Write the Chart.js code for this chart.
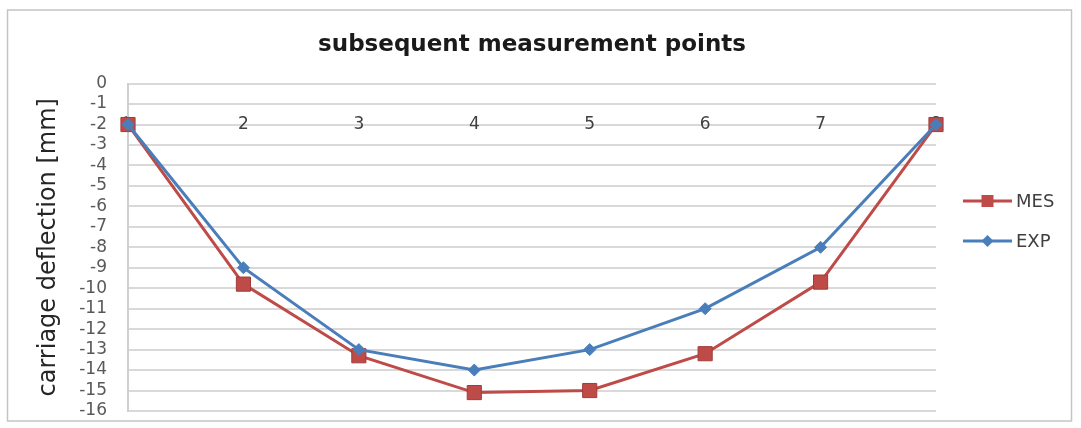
<!DOCTYPE html>
<html><head><meta charset="utf-8">
<script src="https://cdn.jsdelivr.net/npm/chart.js"></script>
<style>html,body{margin:0;padding:0;background:#fff;overflow:hidden}canvas{display:block}</style>
</head><body>
<canvas id="c" width="1081" height="428"></canvas>
<script>
// ---- data ----
const categories = ['1', '2', '3', '4', '5', '6', '7', '8'];
const mesValues = [-2, -9.8, -13.3, -15.1, -15.0, -13.2, -9.7, -2];
const expValues = [-2, -9.0, -13.0, -14.0, -13.0, -11.0, -8.0, -2];
const seriesNames = ['MES', 'EXP'];
const yMin = -16, yMax = 0, yStep = 1;
const chartTitle = 'subsequent measurement points';
const yAxisTitle = 'carriage deflection [mm]';

const MES_COLOR = '#BE4B48';
const EXP_COLOR = '#4A7EBB';

const framePlugin = {
  id: 'frame',
  beforeDraw(chart) {
    const ctx = chart.ctx;
    ctx.save();
    ctx.fillStyle = '#ffffff';
    ctx.fillRect(0, 0, chart.width, chart.height);
    ctx.strokeStyle = '#c4c4c4';
    ctx.lineWidth = 1.5;
    ctx.strokeRect(7.5, 10, 1064, 411);
    ctx.restore();
  }
};

const legendPlugin = {
  id: 'sideLegend',
  afterDraw(chart) {
    const ctx = chart.ctx;
    const ca = chart.chartArea;
    const x0 = ca.right + 27, x1 = ca.right + 76, xm = (x0 + x1) / 2;
    const yStart = 201, rowGap = 40;
    ctx.save();
    chart.data.datasets.forEach((ds, i) => {
      const y = yStart + i * rowGap;
      ctx.strokeStyle = ds.borderColor;
      ctx.lineWidth = 3;
      ctx.beginPath(); ctx.moveTo(x0, y); ctx.lineTo(x1, y); ctx.stroke();
      ctx.fillStyle = ds.pointBackgroundColor;
      ctx.beginPath();
      if (ds.pointStyle === 'rect') {
        ctx.rect(xm - 6, y - 6, 12, 12);
      } else {
        ctx.moveTo(xm, y - 6); ctx.lineTo(xm + 6, y); ctx.lineTo(xm, y + 6); ctx.lineTo(xm - 6, y); ctx.closePath();
      }
      ctx.fill();
      ctx.fillStyle = '#404040';
      ctx.font = '18px "DejaVu Sans"';
      ctx.textAlign = 'left';
      ctx.textBaseline = 'middle';
      ctx.fillText(ds.label, x1 + 4, y + 1);
    });
    ctx.restore();
  }
};

new Chart(document.getElementById('c'), {
  type: 'line',
  data: {
    labels: categories,
    datasets: [
      {
        label: seriesNames[0], data: mesValues, order: 1,
        borderColor: MES_COLOR, backgroundColor: MES_COLOR,
        pointBackgroundColor: MES_COLOR, pointBorderColor: '#a03c3a',
        pointStyle: 'rect', pointRadius: 10, pointBorderWidth: 1,
        borderWidth: 3, tension: 0, fill: false
      },
      {
        label: seriesNames[1], data: expValues, order: 0,
        borderColor: EXP_COLOR, backgroundColor: EXP_COLOR,
        pointBackgroundColor: EXP_COLOR, pointBorderColor: EXP_COLOR,
        pointStyle: 'rectRot', pointRadius: 6, pointBorderWidth: 1,
        borderWidth: 3, tension: 0, fill: false
      }
    ]
  },
  options: {
    responsive: false,
    animation: false,
    devicePixelRatio: 1,
    layout: { padding: { left: 28, right: 145, top: 0, bottom: 17 } },
    plugins: {
      legend: { display: false },
      tooltip: { enabled: false },
      title: {
        display: true, text: chartTitle, fullSize: false,
        color: '#1a1a1a',
        font: { family: 'DejaVu Sans', size: 23, weight: 'bold' },
        padding: { top: 31, bottom: 25 }
      }
    },
    scales: {
      x: {
        type: 'category',
        position: { y: -2 },
        offset: false,
        afterFit(scale) { scale.height = 0; },
        grid: { display: false, drawTicks: false },
        border: { display: false },
        ticks: {
          color: '#404040', padding: -10, autoSkip: false, maxRotation: 0,
          font: { family: 'DejaVu Sans', size: 17 }
        }
      },
      y: {
        min: yMin, max: yMax,
        afterFit(scale) { scale.width = 100; },
        grid: { color: '#d9d9d9', lineWidth: 2, drawTicks: true, tickLength: 21, tickColor: 'rgba(0,0,0,0)' },
        border: { display: true, color: '#d0d0d0', width: 2 },
        ticks: {
          stepSize: yStep, autoSkip: false, padding: 0, color: '#595959',
          font: { family: 'DejaVu Sans', size: 17 }
        },
        title: {
          display: true, text: yAxisTitle, color: '#262626',
          font: { family: 'DejaVu Sans', size: 24 },
          padding: { top: 6, bottom: 4 }
        }
      }
    }
  },
  plugins: [framePlugin, legendPlugin]
});
</script>
</body></html>
